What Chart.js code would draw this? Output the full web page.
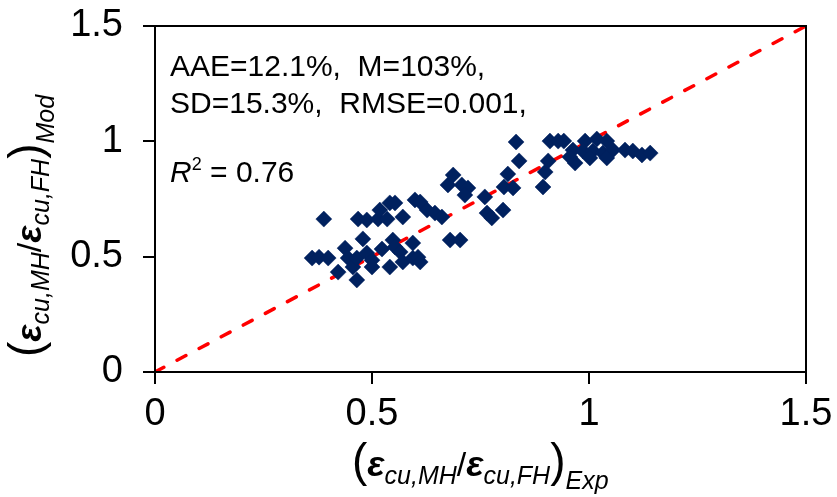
<!DOCTYPE html>
<html>
<head>
<meta charset="utf-8">
<script src="https://cdn.jsdelivr.net/npm/chart.js@4.4.1/dist/chart.umd.min.js"></script>
<style>
  html, body { margin: 0; padding: 0; background: #fff; }
  #wrap { position: relative; width: 837px; height: 497px; font-family: "Liberation Sans", Arial, sans-serif; color: #000; }
  #chart { position: absolute; left: 0; top: 0; }
  .stats { position: absolute; left: 170px; font-size: 30px; white-space: pre; line-height: 1; }
  .stats sup { font-size: 18px; vertical-align: 12px; }
  .title { position: absolute; white-space: nowrap; font-size: 34px; line-height: 1; }
  .title .par { font-size: 46px; font-weight: normal; }
  .title .eps { font-style: italic; font-weight: bold; font-size: 36px; }
  .title sub { font-style: italic; font-size: 25px; vertical-align: -8px; }
  .title sub.out { vertical-align: -13px; }
  #ytitle { transform-origin: 0 0; transform: rotate(-90deg); }
</style>
</head>
<body>
<div id="wrap">
  <canvas id="chart" width="837" height="497"></canvas>
  <div class="stats" style="top:51px">AAE=12.1%,  M=103%,</div>
  <div class="stats" style="top:88px">SD=15.3%,  RMSE=0.001,</div>
  <div class="stats" style="top:155px"><i>R</i><sup>2</sup> = 0.76</div>
  <div class="title" id="xtitle" style="left:352px; top:437px"><span class="par">(</span><span class="eps">ε</span><sub>cu,MH</sub>/<span class="eps">ε</span><sub>cu,FH</sub><span class="par">)</span><sub class="out">Exp</sub></div>
  <div class="title" id="ytitle" style="left:2px; top:357px"><span class="par">(</span><span class="eps">ε</span><sub>cu,MH</sub>/<span class="eps">ε</span><sub>cu,FH</sub><span class="par">)</span><sub class="out">Mod</sub></div>
</div>
<script>
// experimental vs. model strain ratios
const expRatio = [
  0.362, 0.378, 0.389, 0.399, 0.422, 0.438, 0.445, 0.456, 0.465, 0.465,
  0.468, 0.479, 0.488, 0.488, 0.500, 0.500, 0.514, 0.518, 0.523, 0.535,
  0.541, 0.541, 0.548, 0.553, 0.553, 0.565, 0.571, 0.571, 0.594, 0.594,
  0.599, 0.606, 0.611, 0.611, 0.627, 0.645, 0.661, 0.680, 0.687, 0.675,
  0.703, 0.707, 0.721, 0.714, 0.760, 0.765, 0.776, 0.802, 0.813, 0.804,
  0.825, 0.832, 0.839, 0.894, 0.899, 0.906, 0.910, 0.929, 0.942, 0.991,
  1.018, 1.041, 0.963, 0.986, 1.009, 1.032, 1.055, 1.083, 1.101, 1.122,
  1.141, 0.968, 1.002, 1.041, 0.956
];
const modRatio = [
  0.494, 0.498, 0.663, 0.494, 0.433, 0.537, 0.494, 0.455, 0.494, 0.399,
  0.663, 0.577, 0.659, 0.516, 0.485, 0.455, 0.663, 0.702, 0.533, 0.663,
  0.733, 0.455, 0.572, 0.733, 0.542, 0.520, 0.672, 0.477, 0.559, 0.494,
  0.746, 0.498, 0.477, 0.737, 0.702, 0.689, 0.672, 0.572, 0.854, 0.811,
  0.572, 0.811, 0.798, 0.767, 0.759, 0.689, 0.668, 0.702, 0.858, 0.802,
  0.798, 0.997, 0.915, 0.802, 0.867, 0.915, 1.001, 1.001, 1.001, 1.001,
  1.010, 1.001, 0.962, 0.958, 0.958, 0.949, 0.962, 0.962, 0.958, 0.941,
  0.949, 0.906, 0.928, 0.928, 0.932
];
// 1:1 reference line
const equalityX = [0, 1.5];
const equalityY = [0, 1.5];
const axisMin = 0;
const axisMax = 1.5;
const axisStep = 0.5;

const toPoints = (xs, ys) => xs.map((x, i) => ({ x, y: ys[i] }));

// box around the plot area (top and right edges)
const frame = {
  id: 'frame',
  afterDraw(chart) {
    const { ctx, chartArea: a } = chart;
    ctx.save();
    ctx.strokeStyle = '#000';
    ctx.lineWidth = 2;
    ctx.strokeRect(a.left, a.top, a.right - a.left, a.bottom - a.top);
    ctx.restore();
  }
};

const tickFont = { family: 'Liberation Sans', size: 38 };
const tickLabel = (v) => String(Math.round(v * 10) / 10);

// fixed axis sizes; label overhang is left to the layout padding
const axis = (padding, size) => ({
  type: 'linear',
  min: axisMin,
  max: axisMax,
  ticks: { stepSize: axisStep, color: '#000', font: tickFont, padding, callback: tickLabel },
  grid: { drawOnChartArea: false, drawTicks: true, tickLength: 12, color: '#000', lineWidth: 2 },
  border: { color: '#000', width: 2 },
  afterFit(s) {
    if (s.isHorizontal()) s.height = size; else s.width = size;
    s.paddingTop = s.paddingBottom = s.paddingLeft = s.paddingRight = 0;
  }
});

new Chart(document.getElementById('chart'), {
  type: 'scatter',
  data: {
    datasets: [
      {
        data: toPoints(expRatio, modRatio),
        pointStyle: 'rectRot',
        pointRadius: 8,
        backgroundColor: '#00215f',
        borderColor: '#00215f',
        borderWidth: 0.5,
        order: 1
      },
      {
        data: toPoints(equalityX, equalityY),
        showLine: true,
        pointRadius: 0,
        borderColor: '#ff0000',
        borderWidth: 3.5,
        borderDash: [10, 15],
        borderCapStyle: 'round',
        order: 2
      }
    ]
  },
  options: {
    responsive: false,
    animation: false,
    devicePixelRatio: 1,
    layout: { padding: { left: 0, top: 26, right: 31, bottom: 0 } },
    plugins: { legend: { display: false }, tooltip: { enabled: false } },
    scales: {
      x: axis(8, 125),
      y: axis(20, 155)
    }
  },
  plugins: [frame]
});
</script>
</body>
</html>
